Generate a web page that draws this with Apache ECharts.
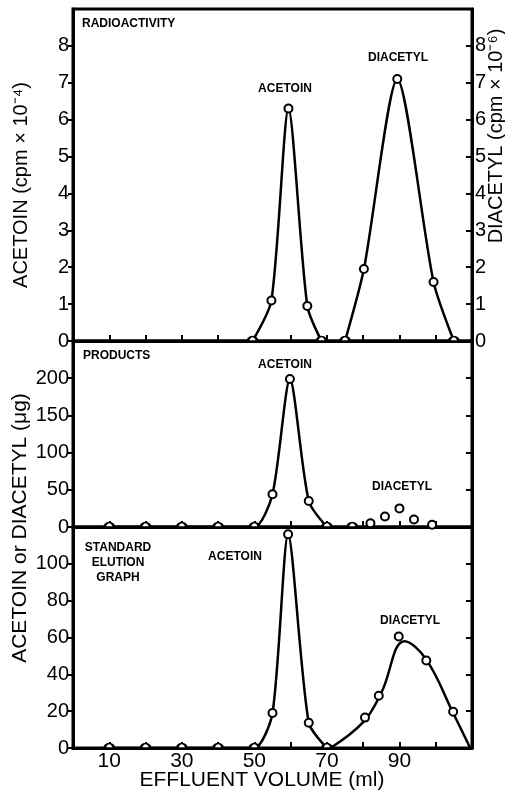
<!DOCTYPE html>
<html>
<head>
<meta charset="utf-8">
<title>Elution</title>
<script src="https://cdn.jsdelivr.net/npm/echarts@6/dist/echarts.min.js"></script>
<style>
  html, body { margin: 0; padding: 0; background: #fff; }
  #chart { width: 505px; height: 790px; }
</style>
</head>
<body>
<div id="chart"></div>
<script>
// --- radioactivity panel (cpm) ---
const radAcetoinVol = [49.5, 54.7, 59.4, 64.6, 68.5];
const radAcetoinCpm = [0, 1.1, 6.3, 0.95, 0];
const radDiacetylVol = [75, 80.2, 89.4, 99.4, 105];
const radDiacetylCpm = [0, 1.95, 7.1, 1.6, 0];

// --- products panel (ug) ---
const prodAcetoinVol = [10, 20, 30, 40, 50, 55, 59.8, 65, 70];
const prodAcetoinUg = [0, 0, 0, 0, 0, 44, 199, 35, 0];
const prodDiacetylVol = [77, 82, 86, 90, 94, 99];
const prodDiacetylUg = [0, 5, 14, 25, 10, 3];

// --- standard elution graph (ug) ---
const stdAcetoinVol = [10, 20, 30, 40, 50, 55, 59.3, 65, 70];
const stdAcetoinUg = [0, 0, 0, 0, 0, 19, 116, 13.7, 0];
const stdDiacetylVol = [80.5, 84.3, 89.8, 97.4, 104.8];
const stdDiacetylUg = [16.5, 28.4, 60.5, 47.5, 19.7];
// fitted curve drawn through the diacetyl standard
const stdCurveVol = [71, 80, 85, 91.4, 97.4, 104.8, 109.5];
const stdCurveUg = [0, 14, 30, 58, 48, 19, 0];

// tick marks / labels
const xTicks = [10, 20, 30, 40, 50, 60, 70, 80, 90, 100];
const xLabels = [10, 30, 50, 70, 90];
const cpmTicks = [0, 1, 2, 3, 4, 5, 6, 7, 8];
const prodTicks = [0, 50, 100, 150, 200];
const stdTicks = [0, 20, 40, 60, 80, 100];

const FONT = "'Liberation Sans', Arial, sans-serif";
const halfRing = 'path://M0,10 A10,10 0 0 1 20,10 Z';

function pts(xs, ys) {
  // points sitting on the baseline only show their upper half
  return xs.map((x, i) => ys[i] === 0
    ? { value: [x, 0], symbol: halfRing, symbolSize: [9, 4.5], symbolOffset: [0, '-50%'] }
    : [x, ys[i]]);
}

const ringStyle = { color: '#fff', borderColor: '#000', borderWidth: 2, opacity: 1 };

function lineSeries(xi, yi, xs, ys) {
  return {
    type: 'line', xAxisIndex: xi, yAxisIndex: yi, data: pts(xs, ys),
    smooth: 0.25, symbol: 'circle', symbolSize: 8, showAllSymbol: true,
    itemStyle: ringStyle, lineStyle: { color: '#000', width: 2.5 },
    emphasis: { disabled: true }, z: 3
  };
}

function dotSeries(xi, yi, xs, ys) {
  return {
    type: 'scatter', xAxisIndex: xi, yAxisIndex: yi, data: pts(xs, ys),
    symbol: 'circle', symbolSize: 8, itemStyle: ringStyle,
    emphasis: { disabled: true }, z: 4
  };
}

function xAxisFor(grid, showLabels) {
  return {
    type: 'value', gridIndex: grid, min: 0, max: 110,
    axisLine: { show: true, lineStyle: { color: '#000', width: 3 } },
    axisTick: { show: true, inside: true, length: 6, customValues: xTicks, lineStyle: { color: '#000', width: 2 } },
    axisLabel: { show: showLabels, customValues: xLabels, margin: 3, color: '#000', fontSize: 21, fontFamily: FONT },
    splitLine: { show: false }
  };
}

function yAxisFor(grid, side, max, ticks, showLabels) {
  return {
    type: 'value', gridIndex: grid, position: side, min: 0, max: max,
    axisLine: { show: true, onZero: false, lineStyle: { color: '#000', width: 3 } },
    axisTick: { show: true, inside: side === 'right', length: side === 'right' ? 6 : 5, customValues: ticks,
      lineStyle: { color: '#000', width: 2 } },
    axisLabel: { show: showLabels, customValues: ticks, margin: side === 'right' ? 3 : 4,
      color: '#000', fontSize: 20, fontFamily: FONT },
    splitLine: { show: false }
  };
}

function label(text, x, y, opts) {
  return Object.assign({
    type: 'text', x: x, y: y, silent: true, z: 10,
    style: Object.assign({
      text: text, fill: '#000', fontFamily: FONT, fontSize: 12, fontWeight: 'bold',
      align: 'center', verticalAlign: 'middle', textAlign: 'center', textVerticalAlign: 'middle'
    }, opts && opts.style)
  }, opts && opts.el);
}

let chart = echarts.init(document.getElementById('chart'), null, { renderer: 'canvas' });

let option = {
  backgroundColor: '#fff',
  animation: false,
  grid: [
    { left: 73, right: 33, top: 9, height: 332, show: true, borderColor: '#000', borderWidth: 3 },
    { left: 73, right: 33, top: 341, height: 186, show: true, borderColor: '#000', borderWidth: 3 },
    { left: 73, right: 33, top: 527, height: 221, show: true, borderColor: '#000', borderWidth: 3 }
  ],
  xAxis: [xAxisFor(0, false), xAxisFor(1, false), xAxisFor(2, true)],
  yAxis: [
    yAxisFor(0, 'left', 9, cpmTicks, true),
    yAxisFor(0, 'right', 9, cpmTicks, true),
    yAxisFor(1, 'left', 250, prodTicks, true),
    yAxisFor(1, 'right', 250, prodTicks, false),
    yAxisFor(2, 'left', 120, stdTicks, true),
    yAxisFor(2, 'right', 120, stdTicks, false)
  ],
  series: [
    lineSeries(0, 0, radAcetoinVol, radAcetoinCpm),
    lineSeries(0, 1, radDiacetylVol, radDiacetylCpm),
    lineSeries(1, 2, prodAcetoinVol, prodAcetoinUg),
    dotSeries(1, 2, prodDiacetylVol, prodDiacetylUg),
    lineSeries(2, 4, stdAcetoinVol, stdAcetoinUg),
    {
      type: 'line', xAxisIndex: 2, yAxisIndex: 4,
      data: stdCurveVol.map((x, i) => [x, stdCurveUg[i]]),
      smooth: 0.4, symbol: 'none', lineStyle: { color: '#000', width: 2.5 },
      emphasis: { disabled: true }, z: 3
    },
    dotSeries(2, 4, stdDiacetylVol, stdDiacetylUg)
  ],
  graphic: [
    label('RADIOACTIVITY', 82, 24, { style: { align: 'left', textAlign: 'left' } }),
    label('ACETOIN', 285, 89),
    label('DIACETYL', 398, 58),
    label('PRODUCTS', 83, 356, { style: { align: 'left', textAlign: 'left' } }),
    label('ACETOIN', 285, 365),
    label('DIACETYL', 402, 487),
    label('STANDARD\nELUTION\nGRAPH', 118, 563, { style: { lineHeight: 15 } }),
    label('ACETOIN', 235, 557),
    label('DIACETYL', 410, 621),
    label('ACETOIN (cpm × 10⁻⁴)', 21, 185,
      { el: { rotation: Math.PI / 2 }, style: { fontSize: 20, fontWeight: 'normal' } }),
    label('DIACETYL (cpm × 10⁻⁶)', 496, 136,
      { el: { rotation: Math.PI / 2 }, style: { fontSize: 20, fontWeight: 'normal' } }),
    label('ACETOIN or DIACETYL (μg)', 20, 528,
      { el: { rotation: Math.PI / 2 }, style: { fontSize: 21, fontWeight: 'normal' } }),
    label('EFFLUENT VOLUME (ml)', 262, 780, { style: { fontSize: 21, fontWeight: 'normal' } })
  ]
};

chart.setOption(option);

window.addEventListener('resize', chart.resize);
</script>
</body>
</html>
